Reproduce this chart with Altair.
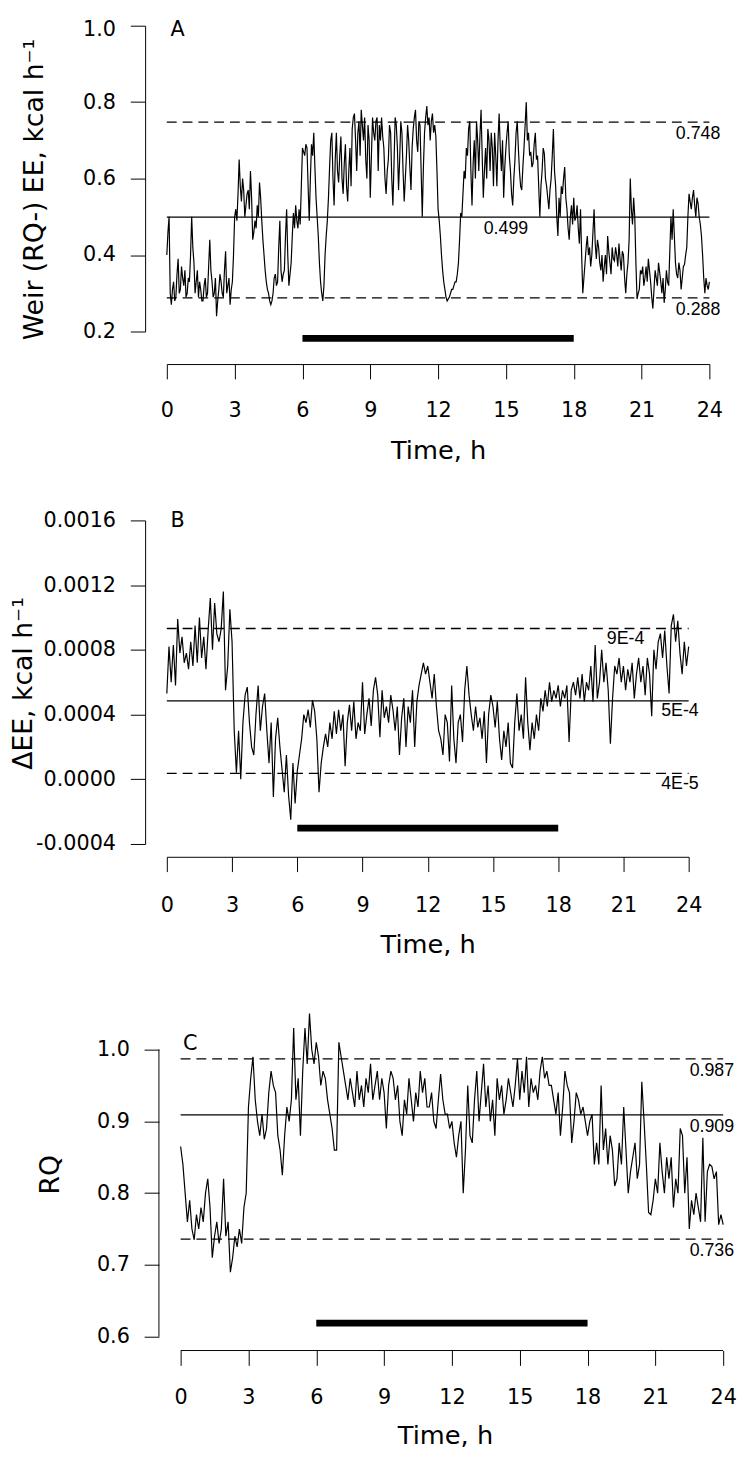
import altair as alt
import pandas as pd

# ---------------- data ----------------
TIME_STEP_A = 0.05   # h, panel A sampling
TIME_STEP_BC = 0.1   # h, panels B and C sampling

A_EE = [
    0.40, 0.46, 0.50, 0.30, 0.27, 0.31, 0.33, 0.28, 0.29, 0.35, 0.39, 0.30, 0.31, 0.37, 0.34, 0.32, 0.36, 0.29, 0.30, 0.34,
    0.33, 0.40, 0.50, 0.42, 0.38, 0.30, 0.33, 0.36, 0.29, 0.33, 0.31, 0.28, 0.28, 0.32, 0.34, 0.29, 0.30, 0.37, 0.44, 0.36,
    0.33, 0.29, 0.30, 0.34, 0.24, 0.28, 0.31, 0.35, 0.33, 0.30, 0.29, 0.36, 0.41, 0.30, 0.32, 0.34, 0.27, 0.31, 0.33, 0.40,
    0.50, 0.52, 0.49, 0.56, 0.65, 0.58, 0.54, 0.60, 0.57, 0.50, 0.53, 0.56, 0.57, 0.52, 0.62, 0.55, 0.44, 0.46, 0.49, 0.47,
    0.53, 0.50, 0.59, 0.55, 0.49, 0.44, 0.40, 0.36, 0.33, 0.31, 0.30, 0.28, 0.27, 0.28, 0.30, 0.34, 0.35, 0.32, 0.33, 0.42,
    0.49, 0.36, 0.33, 0.35, 0.36, 0.45, 0.52, 0.40, 0.32, 0.35, 0.38, 0.45, 0.51, 0.47, 0.53, 0.49, 0.47, 0.52, 0.48, 0.58,
    0.68, 0.67, 0.66, 0.69, 0.68, 0.58, 0.49, 0.60, 0.69, 0.66, 0.72, 0.63, 0.55, 0.50, 0.45, 0.38, 0.33, 0.30, 0.28, 0.32,
    0.40, 0.45, 0.49, 0.55, 0.63, 0.70, 0.72, 0.60, 0.53, 0.65, 0.72, 0.62, 0.59, 0.66, 0.71, 0.60, 0.56, 0.64, 0.69, 0.58,
    0.54, 0.62, 0.68, 0.58, 0.73, 0.76, 0.77, 0.70, 0.62, 0.72, 0.75, 0.66, 0.78, 0.74, 0.70, 0.76, 0.65, 0.60, 0.74, 0.70,
    0.55, 0.66, 0.76, 0.72, 0.70, 0.75, 0.76, 0.62, 0.74, 0.70, 0.76, 0.71, 0.68, 0.60, 0.56, 0.62, 0.65, 0.74, 0.72, 0.60,
    0.53, 0.64, 0.76, 0.74, 0.68, 0.57, 0.65, 0.75, 0.72, 0.62, 0.54, 0.60, 0.66, 0.74, 0.70, 0.63, 0.57, 0.68, 0.73, 0.76,
    0.78, 0.70, 0.67, 0.75, 0.74, 0.62, 0.50, 0.63, 0.72, 0.76, 0.79, 0.74, 0.76, 0.70, 0.75, 0.77, 0.72, 0.74, 0.71, 0.62,
    0.52, 0.49, 0.45, 0.40, 0.36, 0.33, 0.31, 0.29, 0.28, 0.285, 0.29, 0.30, 0.31, 0.31, 0.32, 0.33, 0.33, 0.35, 0.38, 0.44,
    0.51, 0.50, 0.56, 0.62, 0.60, 0.68, 0.66, 0.73, 0.75, 0.62, 0.53, 0.64, 0.70, 0.60, 0.75, 0.70, 0.62, 0.71, 0.78, 0.66,
    0.55, 0.62, 0.68, 0.60, 0.73, 0.70, 0.62, 0.72, 0.68, 0.58, 0.72, 0.66, 0.58, 0.70, 0.77, 0.68, 0.62, 0.70, 0.55, 0.63,
    0.68, 0.72, 0.75, 0.66, 0.62, 0.56, 0.53, 0.60, 0.65, 0.72, 0.75, 0.68, 0.62, 0.58, 0.57, 0.63, 0.68, 0.74, 0.80, 0.70,
    0.72, 0.66, 0.67, 0.63, 0.64, 0.69, 0.72, 0.65, 0.66, 0.58, 0.50, 0.58, 0.62, 0.68, 0.665, 0.60, 0.58, 0.55, 0.52, 0.57,
    0.60, 0.66, 0.73, 0.62, 0.58, 0.50, 0.45, 0.55, 0.50, 0.58, 0.56, 0.60, 0.63, 0.55, 0.52, 0.47, 0.44, 0.50, 0.53, 0.48,
    0.55, 0.49, 0.50, 0.53, 0.47, 0.43, 0.52, 0.40, 0.30, 0.34, 0.38, 0.42, 0.45, 0.40, 0.42, 0.37, 0.40, 0.46, 0.52, 0.43,
    0.39, 0.44, 0.42, 0.38, 0.36, 0.40, 0.33, 0.37, 0.40, 0.35, 0.45, 0.41, 0.38, 0.35, 0.42, 0.39, 0.385, 0.42, 0.40, 0.37,
    0.43, 0.39, 0.36, 0.41, 0.40, 0.34, 0.30, 0.35, 0.38, 0.44, 0.60, 0.52, 0.48, 0.55, 0.50, 0.38, 0.285, 0.30, 0.31, 0.36,
    0.35, 0.37, 0.32, 0.34, 0.37, 0.33, 0.39, 0.36, 0.33, 0.29, 0.26, 0.31, 0.36, 0.34, 0.32, 0.38, 0.355, 0.33, 0.30, 0.34,
    0.275, 0.31, 0.36, 0.33, 0.32, 0.41, 0.50, 0.44, 0.52, 0.45, 0.38, 0.35, 0.34, 0.38, 0.36, 0.31, 0.34, 0.37, 0.375, 0.40,
    0.42, 0.50, 0.56, 0.54, 0.52, 0.55, 0.57, 0.53, 0.50, 0.55, 0.535, 0.50, 0.48, 0.45, 0.40, 0.34, 0.30, 0.34, 0.32, 0.31,
    0.33,
]

# Delta EE in units of 1e-4 kcal/h
B_DEE_E4 = [
    5.3, 8.2, 6.0, 8.3, 5.8, 9.9, 7.8, 8.8, 7.2, 7.8,
    6.8, 8.5, 7.0, 9.5, 7.2, 10.0, 7.5, 8.8, 6.8, 9.2,
    11.2, 8.0, 10.9, 9.0, 8.5, 9.3, 11.6, 5.5, 7.0, 10.5,
    8.5, 3.0, 0.4, 3.0, 0.0, 3.5, 5.2, 5.7, 3.5, 2.0,
    1.5, 4.0, 5.8, 3.0, 4.5, 5.3, 3.0, 1.0, 3.5, -1.1,
    2.5, 3.8, 2.0, 0.6, -0.8, 1.5, -1.0, -2.5, 1.0, -1.5,
    0.5, 1.5, 2.5, 4.0, 3.5, 4.3, 3.2, 4.9, 4.2, 2.5,
    -0.8, 1.0, 2.0, 2.8, 2.0, 3.5, 2.5, 4.2, 2.8, 4.3,
    3.0, 4.0, 0.8, 3.5, 4.6, 3.0, 4.8, 2.5, 3.5, 3.0,
    6.0, 2.8, 4.0, 5.0, 3.3, 5.5, 6.3, 5.2, 2.6, 5.5,
    3.8, 4.5, 3.5, 5.2, 4.3, 3.0, 4.5, 1.5, 3.8, 5.0,
    2.0, 4.5, 3.5, 5.5, 2.0, 4.8, 5.8, 6.5, 7.2, 6.5,
    7.0, 6.0, 5.0, 6.5, 4.5, 3.0, 2.5, 1.5, 4.0, 3.5,
    1.1, 5.8, 2.5, 1.0, 3.5, 4.0, 2.3, 5.5, 7.0, 5.2,
    4.0, 3.0, 4.5, 3.2, 3.8, 2.5, 4.2, 1.0, 4.0, 5.2,
    4.5, 3.2, 4.8, 2.5, 1.2, 3.0, 2.0, 3.5, 1.0, 0.7,
    3.5, 5.3, 3.0, 4.0, 2.5, 6.3, 3.5, 1.8, 3.5, 2.5,
    4.0, 3.0, 5.0, 4.2, 5.5, 4.5, 6.0, 4.8, 5.5, 5.0,
    5.8, 4.5, 5.5, 5.0, 5.8, 2.3, 5.5, 6.0, 5.2, 6.3,
    5.0, 6.5, 4.8, 6.0, 5.5, 7.0, 4.8, 8.3, 5.0, 6.0,
    8.0, 6.0, 7.2, 5.5, 2.2, 5.0, 7.0, 6.5, 7.5, 6.0,
    7.0, 5.5, 6.8, 6.0, 7.2, 5.0, 6.5, 7.5, 6.0, 7.0,
    5.2, 7.5, 6.5, 3.9, 8.0, 6.8, 8.5, 9.0, 7.5, 9.2,
    7.0, 5.3, 9.5, 10.2, 8.5, 9.8, 7.8, 6.5, 8.5, 7.0,
    8.2,
]

C_RQ = [
    0.865, 0.84, 0.80, 0.76, 0.79, 0.75, 0.735, 0.77, 0.75, 0.78,
    0.76, 0.80, 0.82, 0.78, 0.71, 0.74, 0.76, 0.73, 0.75, 0.82,
    0.74, 0.76, 0.69, 0.71, 0.74, 0.725, 0.75, 0.73, 0.78, 0.80,
    0.92, 0.96, 0.99, 0.93, 0.90, 0.88, 0.91, 0.875, 0.89, 0.94,
    0.97, 0.95, 0.94, 0.88, 0.86, 0.825, 0.88, 0.92, 0.90, 0.93,
    1.03, 0.93, 0.96, 0.88, 0.97, 1.03, 0.98, 1.05, 1.00, 0.98,
    1.01, 0.99, 0.95, 0.97, 0.96, 0.93, 0.91, 0.89, 0.86, 0.86,
    1.01, 0.99, 0.97, 0.95, 0.93, 0.96, 0.94, 0.92, 0.97, 0.93,
    0.95, 0.92, 0.96, 0.94, 0.98, 0.93, 0.95, 0.97, 0.93, 0.96,
    0.94, 0.89, 0.95, 0.97, 0.96, 0.93, 0.95, 0.90, 0.88, 0.93,
    0.91, 0.96, 0.93, 0.90, 0.94, 0.92, 0.97, 0.94, 0.96, 0.92,
    0.92, 0.94, 0.90, 0.89, 0.93, 0.966, 0.93, 0.91, 0.91, 0.89,
    0.90, 0.87, 0.85, 0.88, 0.90, 0.80, 0.86, 0.95, 0.88, 0.87,
    0.93, 0.97, 0.90, 0.94, 0.98, 0.92, 0.95, 0.90, 0.93, 0.88,
    0.96, 0.93, 0.95, 0.91, 0.93, 0.96, 0.94, 0.92, 0.95, 0.987,
    0.93, 0.97, 0.94, 0.99, 0.92, 0.96, 0.94, 0.95, 0.93, 0.97,
    0.99, 0.96, 0.97, 0.95, 0.95, 0.93, 0.91, 0.94, 0.88, 0.92,
    0.97, 0.95, 0.94, 0.87, 0.90, 0.94, 0.93, 0.91, 0.92, 0.90,
    0.88, 0.90, 0.91, 0.84, 0.87, 0.84, 0.95, 0.86, 0.89, 0.84,
    0.88, 0.86, 0.81, 0.82, 0.87, 0.84, 0.92, 0.86, 0.80, 0.83,
    0.85, 0.87, 0.82, 0.84, 0.955, 0.90, 0.84, 0.773, 0.77, 0.79,
    0.82, 0.80, 0.87, 0.83, 0.80, 0.85, 0.82, 0.85, 0.78, 0.82,
    0.80, 0.89, 0.88, 0.80, 0.85, 0.75, 0.79, 0.77, 0.80, 0.78,
    0.76, 0.877, 0.76, 0.83, 0.84, 0.837, 0.82, 0.83, 0.756, 0.77,
    0.756,
]

X_TICKS = [0, 3, 6, 9, 12, 15, 18, 21, 24]
BAR_SPAN_H = [6, 18]

A_LINES = [0.748, 0.499, 0.288]          # upper, mean, lower
A_LABELS = ["0.748", "0.499", "0.288"]
A_LABEL_T = [23.5, 15.0, 23.5]
A_BAR_Y = 0.182
A_TICKS = [0.2, 0.4, 0.6, 0.8, 1.0]

B_LINES = [0.000932, 0.000484, 0.000036]
B_LABELS = ["9E-4", "5E-4", "4E-5"]
B_LABEL_T = [21.1, 23.6, 23.6]
B_BAR_Y = -0.000302
B_TICKS = [-0.0004, 0.0, 0.0004, 0.0008, 0.0012, 0.0016]

C_LINES = [0.987, 0.909, 0.736]
C_LABELS = ["0.987", "0.909", "0.736"]
C_LABEL_T = [23.5, 23.5, 23.5]
C_BAR_Y = 0.619
C_TICKS = [0.6, 0.7, 0.8, 0.9, 1.0]

FONT = "DejaVu Sans"
SMALL_FONT = "Liberation Sans"

time_a = [round(i * TIME_STEP_A, 2) for i in range(len(A_EE))]
time_bc = [round(i * TIME_STEP_BC, 2) for i in range(len(C_RQ))]
B_DEE = [v * 1e-4 for v in B_DEE_E4]


def panel(times, values, lines, labels, label_t, label_dy, bar_y, y_dom, y_ticks, x_dom,
          width, height, x_off, y_off, lab_pad, tit_pad, letter, letter_xy,
          ytitle, ytitle_xy, y_axis_kwargs, custom_axes=False):
    xs = alt.Scale(domain=x_dom, nice=False, zero=False)
    ys = alt.Scale(domain=y_dom, nice=False, zero=False)
    df = pd.DataFrame({"t": times, "v": values})

    xaxis = alt.Axis(values=X_TICKS, offset=x_off, title="Time, h", labelPadding=lab_pad,
                     titlePadding=tit_pad, format="d", domain=not custom_axes,
                     labelFlush=False, labelOverlap=False)
    yaxis = alt.Axis(values=y_ticks, offset=y_off, title=None, labelPadding=15,
                     domain=not custom_axes, labelFlush=False, labelOverlap=False,
                     **y_axis_kwargs)

    def X(field):
        return alt.X(field, scale=xs, axis=xaxis)

    def Y(field):
        return alt.Y(field, scale=ys, axis=yaxis)

    trace = alt.Chart(df).mark_line(color="black", strokeWidth=1.2).encode(
        x=X("t:Q"), y=Y("v:Q"))

    ref = pd.DataFrame({"v": lines, "lab": labels, "t": label_t,
                        "kind": ["dashed", "solid", "dashed"],
                        "t0": [X_TICKS[0]] * 3, "t1": [X_TICKS[-1]] * 3})
    solid = alt.Chart(ref).transform_filter("datum.kind == 'solid'").mark_rule(
        color="black", strokeWidth=1.3).encode(
        y=Y("v:Q"), x=X("t0:Q"), x2="t1:Q")
    dashed = alt.Chart(ref).transform_filter("datum.kind == 'dashed'").mark_rule(
        color="black", strokeWidth=1.3, strokeDash=[10, 6]).encode(
        y=Y("v:Q"), x=X("t0:Q"), x2="t1:Q")
    texts = alt.Chart(ref).mark_text(font=SMALL_FONT, fontSize=18, color="black",
                                     align="center", baseline="middle", dy=label_dy).encode(
        x=X("t:Q"), y=Y("v:Q"), text="lab:N")

    bar = alt.Chart(pd.DataFrame({"v": [bar_y], "t0": [BAR_SPAN_H[0]], "t1": [BAR_SPAN_H[1]]})).mark_rule(
        color="black", strokeWidth=7, strokeCap="butt").encode(
        y=Y("v:Q"), x=X("t0:Q"), x2="t1:Q")

    let = alt.Chart(pd.DataFrame({"l": [letter]})).mark_text(
        font=FONT, fontSize=21, color="black", align="center", baseline="middle").encode(
        text="l:N", x=alt.value(letter_xy[0]), y=alt.value(letter_xy[1]))

    yt = alt.Chart(pd.DataFrame({"l": [ytitle]})).mark_text(
        font=FONT, fontSize=27, color="black", align="center", baseline="middle",
        angle=270).encode(
        text="l:N", x=alt.value(ytitle_xy[0]), y=alt.value(ytitle_xy[1]))

    layers = [trace, dashed, solid, texts, bar, let, yt]

    if custom_axes:
        ydom_rule = alt.Chart(pd.DataFrame({"a": [y_ticks[0]], "b": [y_ticks[-1]]})).mark_rule(
            color="black", strokeWidth=1).encode(
            x=alt.value(-y_off), y=Y("a:Q"), y2="b:Q")
        xdom_rule = alt.Chart(pd.DataFrame({"a": [X_TICKS[0]], "b": [X_TICKS[-1]]})).mark_rule(
            color="black", strokeWidth=1).encode(
            y=alt.value(height + x_off), x=X("a:Q"), x2="b:Q")
        layers += [ydom_rule, xdom_rule]

    return alt.layer(*layers).properties(width=width, height=height)


pa = panel(time_a, A_EE, A_LINES, A_LABELS, A_LABEL_T, 12, A_BAR_Y, [0.2, 1.0], A_TICKS, [0, 24],
           550, 310, 33, 22, 21, 18, "A", (10.8, 4), "Weir (RQ-) EE, kcal h\u207b\u00b9",
           (-133.2, 166),
           dict(format=".1f",
                labelOffset={"condition": {"test": "datum.value > 0.95", "value": 3.5}, "value": 0}))

pb = panel(time_bc, B_DEE, B_LINES, B_LABELS, B_LABEL_T, 10.5, B_BAR_Y, [-0.0004, 0.0016], B_TICKS, [0, 24],
           529, 328, 13, 22, 23, 17, "B", (10.8, 0.8), "\u0394EE, kcal h\u207b\u00b9",
           (-144.7, 165.3),
           dict(labelExpr="datum.value < -0.00000001 ? '-' + format(-datum.value, '.4f') : format(abs(datum.value), '.4f')"))

pc = panel(time_bc, C_RQ, C_LINES, C_LABELS, C_LABEL_T, 12, C_BAR_Y, [0.6, 1.0232], C_TICKS, [-0.611, 24],
           564, 308, 14, 8, 22, 15, "C", (23.8, 11.3), "RQ", (-117.2, 143.8),
           dict(format=".1f"), custom_axes=True)

chart = alt.vconcat(pa, pb, pc, spacing=191.5, bounds="flush").configure_view(
    stroke=None
).configure_axis(
    grid=False, domainColor="black", tickColor="black", labelColor="black",
    titleColor="black", labelFont=FONT, titleFont=FONT, labelFontSize=21,
    titleFontSize=26, titleFontWeight="normal", tickSize=15, domainWidth=1, tickWidth=1
).properties(
    padding={"left": 2, "top": 0, "right": 0, "bottom": 0}, background="white"
)

chart.save("out.html", embed_options={"renderer": "svg", "actions": False})
